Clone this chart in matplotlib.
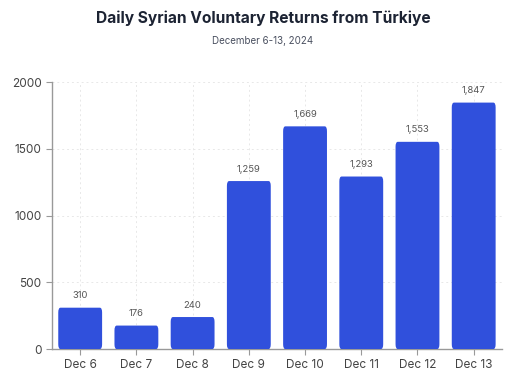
import matplotlib.pyplot as plt
from matplotlib.patches import FancyBboxPatch

plt.rcParams['font.family'] = ['Inter', 'DejaVu Sans']

days = ["Dec 6", "Dec 7", "Dec 8", "Dec 9", "Dec 10", "Dec 11", "Dec 12", "Dec 13"]
returns = [310, 176, 240, 1259, 1669, 1293, 1553, 1847]
yticks = [0, 500, 1000, 1500, 2000]

bar_color = "#3050DC"

fig = plt.figure(figsize=(5.26, 3.84), dpi=100)
ax = fig.add_axes([0.099, 0.091, 0.855, 0.695])

x = list(range(len(days)))
bars = ax.bar(x, returns, width=0.78, color=bar_color, zorder=3)

# swap plain bars for slightly rounded ones
for b in bars:
    bx, by = b.get_x(), b.get_y()
    bw, bh = b.get_width(), b.get_height()
    b.set_visible(False)
    patch = FancyBboxPatch((bx, by), bw, bh,
                           boxstyle="round,pad=0,rounding_size=0.04",
                           mutation_aspect=900,
                           facecolor=bar_color, edgecolor="none", zorder=3)
    ax.add_patch(patch)

for xi, v in zip(x, returns):
    ax.text(xi, v + 55, f"{v:,}", ha="center", va="bottom",
            fontsize=6.8, color="#555555")

ax.set_xlim(-0.5, len(days) - 0.5)
ax.set_ylim(0, 2000)
ax.set_xticks(x)
ax.set_xticklabels(days)
ax.set_yticks(yticks)

ax.grid(True, linestyle=(0, (2, 3)), color="#e8e8e8", linewidth=0.7, zorder=0)
ax.tick_params(axis="both", labelsize=8.5, colors="#999999", labelcolor="#444444",
               length=4, width=0.8)

for s in ["top", "right"]:
    ax.spines[s].set_visible(False)
for s in ["left", "bottom"]:
    ax.spines[s].set_color("#999999")
    ax.spines[s].set_linewidth(1.0)

fig.text(0.5, 0.952, "Daily Syrian Voluntary Returns from Türkiye",
         ha="center", va="center", fontsize=11.2, fontweight="bold", color="#1c2333")
fig.text(0.5, 0.893, "December 6-13, 2024", ha="center", va="center",
         fontsize=7, color="#4a5060")

fig.savefig("out.png", dpi=100)
